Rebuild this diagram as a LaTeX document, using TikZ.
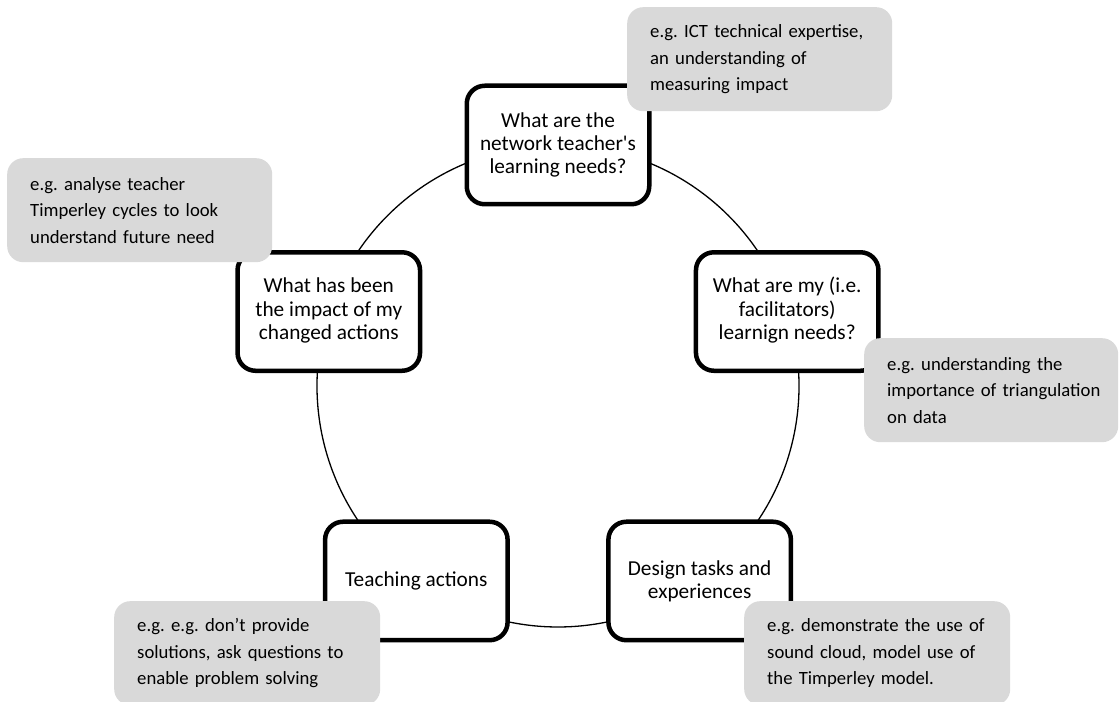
\documentclass[tikz,border=0pt]{standalone}
\usepackage{fontspec}
\setmainfont{Carlito}
\usetikzlibrary{backgrounds}
\definecolor{notegray}{HTML}{D9D9D9}
\frenchspacing
\hyphenpenalty=10000
\exhyphenpenalty=10000
\tikzset{
  stage/.style={draw=black, line width=4.5pt, fill=white, rounded corners=18pt,
    minimum width=182.5pt, minimum height=118.5pt, inner sep=0pt, align=center,
    font=\fontsize{21.3}{23.3}\selectfont},
  note/.style={fill=notegray, rounded corners=16pt, inner xsep=23pt, inner ysep=0pt,
    minimum height=104pt, align=left, anchor=north west,
    font=\fontsize{18.7}{26.5}\selectfont},
  cyc/.style={line width=1.3pt}
}
\newcommand{\upblock}[1]{\raisebox{6pt}{\begin{tabular}{@{}c@{}}#1\end{tabular}}}
\begin{document}
\begin{tikzpicture}[x=1pt,y=1pt]
\useasboundingbox (0,0) rectangle (1120,702);
\coordinate (c) at (558,316);
\node[stage] (s1) at ([shift={(90:241)}]c) {What are the\\network teacher\textquotesingle s\\learning needs?};
\node[stage] (s2) at ([shift={(18:241)}]c) {\upblock{What are my (i.e.\\facilitators)\\learnign needs?}};
\node[stage] (s3) at ([shift={(-54:241)}]c) {Design tasks and\\experiences};
\node[stage] (s4) at ([shift={(-126:241)}]c) {Teaching actions};
\node[stage] (s5) at ([shift={(162:241)}]c) {\upblock{What has been\\the impact of my\\changed actions}};
\begin{pgfonlayer}{background}
  \draw[cyc] (s1.center) arc[start angle=90, end angle=18, radius=241];
  \draw[cyc] (s2.center) arc[start angle=18, end angle=-54, radius=241];
  \draw[cyc] (s3.center) arc[start angle=-54, end angle=-126, radius=241];
  \draw[cyc] (s4.center) arc[start angle=-126, end angle=-198, radius=241];
  \draw[cyc] (s5.center) arc[start angle=162, end angle=90, radius=241];
\end{pgfonlayer}
\node[note, text width=219pt] (n1) at (627,695) {e.g. ICT technical expertise,\\an understanding of\\measuring impact};
\node[note, text width=219pt] (n5) at (7,544) {e.g. analyse teacher\\Timperley cycles to look\\understand future need};
\node[note, text width=208pt] (n2) at (864,364) {e.g. understanding the\\\mbox{importance of triangulation}\\on data};
\node[note, text width=220pt] (n4) at (114,101) {e.g. e.g. don’t provide\\solutions, ask questions to\\enable problem solving};
\node[note, text width=220pt] (n3) at (744,101) {e.g. demonstrate the use of\\sound cloud, model use of\\the Timperley model.};
\end{tikzpicture}
\end{document}
